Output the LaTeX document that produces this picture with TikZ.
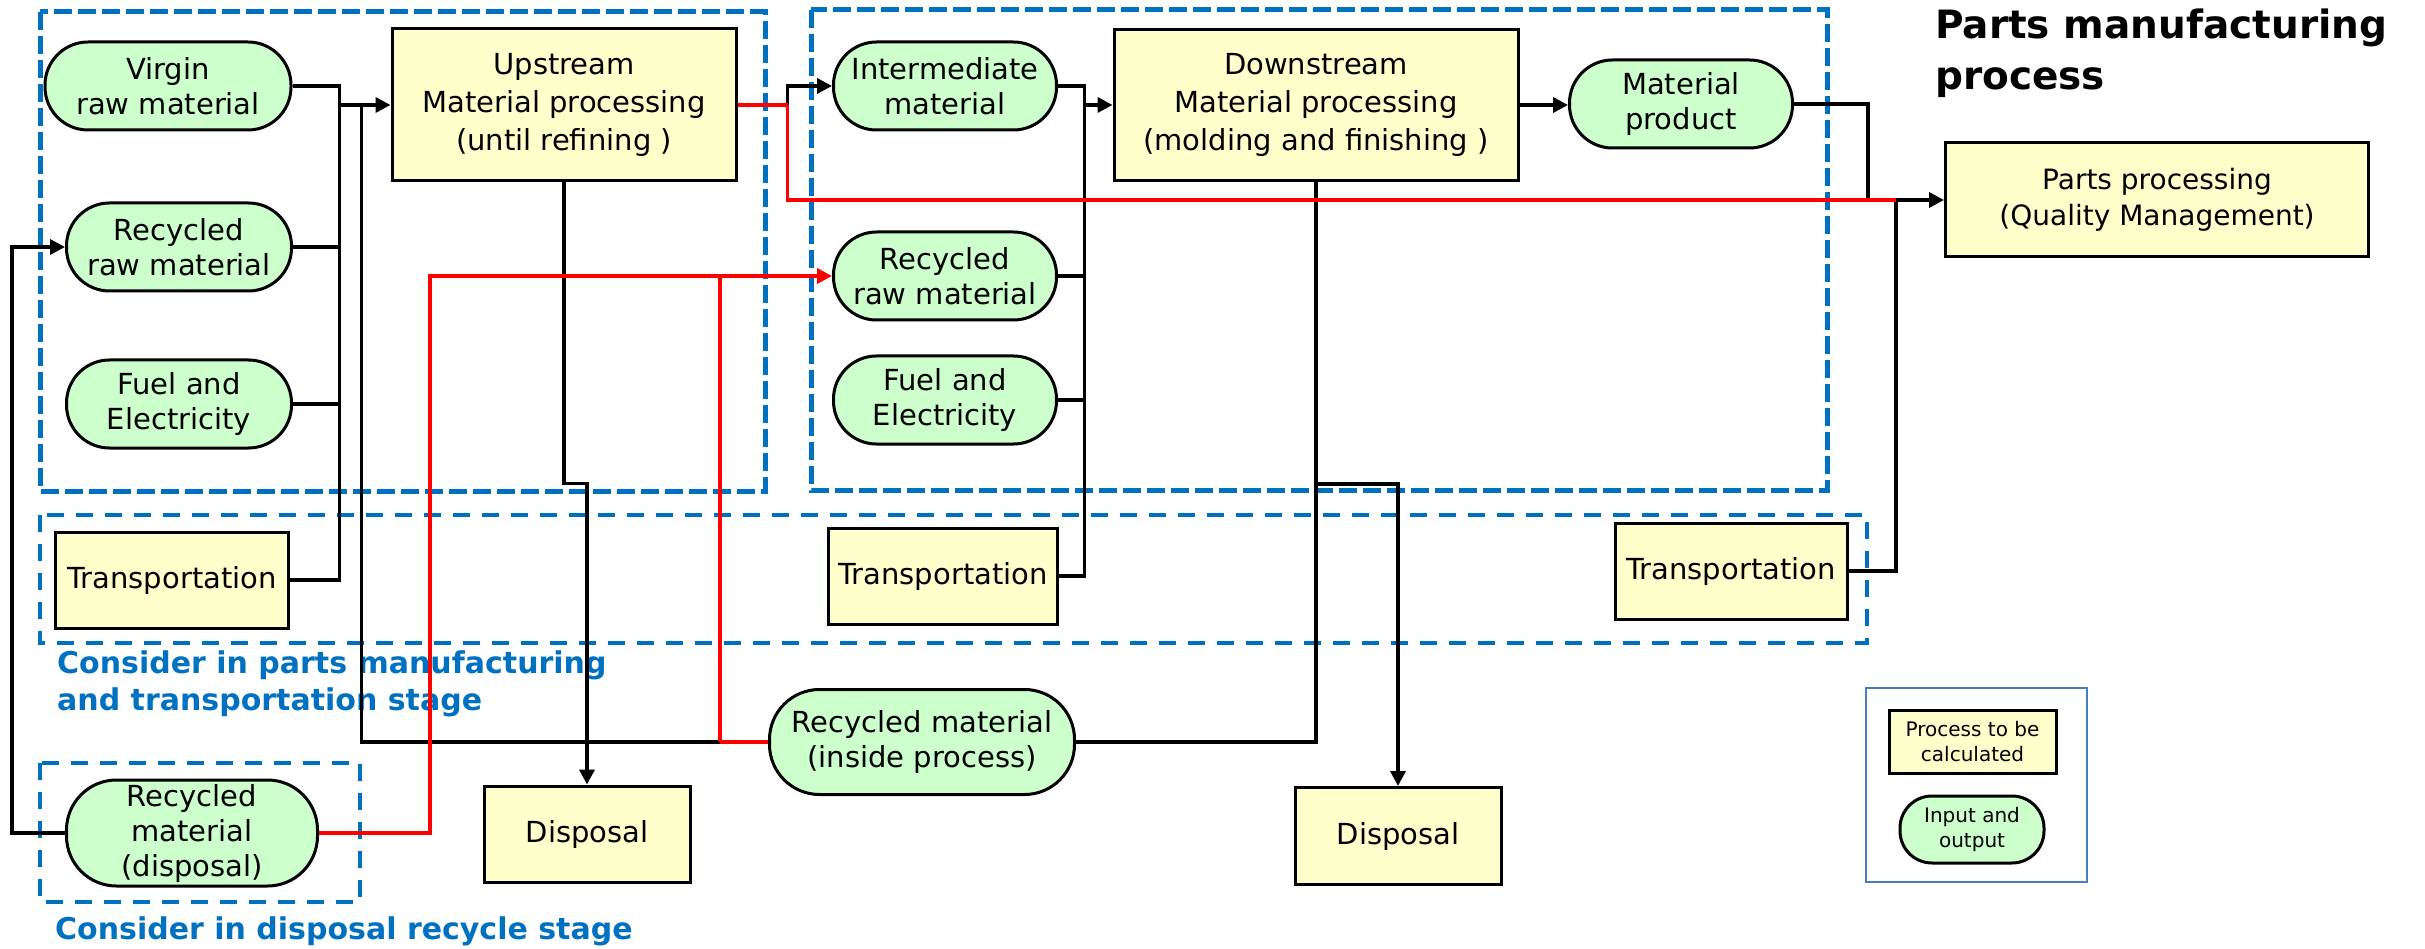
\documentclass[tikz,border=0pt]{standalone}
\usepackage{fontspec}
\setmainfont{DejaVu Sans}
\usepackage{tikz}
\usetikzlibrary{calc,positioning,arrows.meta}
\definecolor{procFill}{HTML}{FFFFCC}
\definecolor{ioFill}{HTML}{CCFFCC}
\definecolor{stageBlue}{HTML}{0070C0}
\definecolor{flowRed}{HTML}{FF0000}
\definecolor{legendEdge}{HTML}{4A7EBB}

\begin{document}
\begin{tikzpicture}[
    x=1pt, y=-1pt,
    proc/.style={rectangle, draw=black, line width=3pt, fill=procFill, align=center,
                 font=\fontsize{29}{36}\selectfont, inner sep=2pt},
    io/.style={rectangle, rounded corners=43pt, draw=black, line width=3pt, fill=ioFill,
               align=center, font=\fontsize{29}{35}\selectfont, inner sep=2pt},
    link/.style={line width=3.5pt, black},
    arrow/.style={link, -{Triangle[length=15pt, width=15pt]}},
    redlink/.style={line width=3.5pt, flowRed},
    redarrow/.style={redlink, -{Triangle[length=15pt, width=15pt]}},
    stage/.style={draw=stageBlue, dash pattern=on 18pt off 6pt, line width=5pt},
    substage/.style={draw=stageBlue, dash pattern=on 17pt off 12pt, line width=3.5pt},
    note/.style={font=\fontsize{30}{37}\selectfont\bfseries, text=stageBlue, align=left,
                 anchor=north west, inner sep=0pt},
]
    \useasboundingbox (0,0) rectangle (2425,949);

    % stage frames
    \draw[stage] (40,12) rectangle (765,491);
    \draw[stage] (811,10) rectangle (1827,490);
    \draw[substage] (40,515) rectangle (1867,643);
    \draw[substage] (40,763) rectangle (360,902);

    % upstream
    \node[io, minimum width=246pt, minimum height=88pt] (virgin) at (168,86) {Virgin\\raw material};
    \node[io, minimum width=225pt, minimum height=88pt] (recL) at (179,247) {Recycled\\raw material};
    \node[io, minimum width=225pt, minimum height=88pt] (fuelL) at (179,404) {Fuel and\\Electricity};
    \node[proc, minimum width=344pt, minimum height=152pt, font=\fontsize{29}{38}\selectfont] (up) at (564,105) {Upstream\\Material processing\\(until refining )};

    % downstream
    \node[io, minimum width=223pt, minimum height=88pt] (inter) at (945,86) {Intermediate\\material};
    \node[io, minimum width=223pt, minimum height=88pt] (recR) at (945,276) {Recycled\\raw material};
    \node[io, minimum width=223pt, minimum height=88pt] (fuelR) at (945,400) {Fuel and\\Electricity};
    \node[proc, minimum width=404pt, minimum height=151pt, font=\fontsize{29}{38}\selectfont] (down) at (1316,105) {Downstream\\Material processing\\(molding and finishing )};
    \node[io, minimum width=223pt, minimum height=88pt] (prod) at (1681,104) {Material\\product};
    \node[proc, minimum width=423pt, minimum height=114pt, font=\fontsize{28}{36}\selectfont] (parts) at (2157,200) {Parts processing\\(Quality Management)};

    % transportation
    \node[proc, minimum width=233pt, minimum height=96pt] (transL) at (172,580) {Transportation};
    \node[proc, minimum width=229pt, minimum height=96pt] (transM) at (943,576) {Transportation};
    \node[proc, minimum width=232pt, minimum height=96pt] (transR) at (1731,571) {Transportation};

    % recycling and disposal
    \node[io, minimum width=305pt, minimum height=105pt, rounded corners=50pt] (recin) at (922,742) {Recycled material\\(inside process)};
    \node[io, minimum width=251pt, minimum height=106pt, rounded corners=50pt] (recdis) at (192,833) {Recycled\\material\\(disposal)};
    \node[proc, minimum width=206pt, minimum height=96pt] (dispL) at (587,834) {Disposal};
    \node[proc, minimum width=206pt, minimum height=97pt] (dispR) at (1398,836) {Disposal};

    % labels
    \node[anchor=north west, inner sep=0pt, align=left, font=\fontsize{39}{51}\selectfont\bfseries] (title) at (1935,9) {Parts manufacturing\\process};
    \node[note] (noteTrans) at (57,651) {Consider in parts manufacturing\\and transportation stage};
    \node[note] (noteDis) at (55,917) {Consider in disposal recycle stage};

    % legend
    \node[draw=legendEdge, line width=1.8pt, minimum width=221pt, minimum height=194pt] (legend) at (1976.5,785) {};
    \node[proc, minimum width=167pt, minimum height=63pt, font=\fontsize{20}{25}\selectfont] (legProc) at (1972.5,741.5) {Process to be\\calculated};
    \node[io, rounded corners=32pt, minimum width=144pt, minimum height=67pt, font=\fontsize{20}{25}\selectfont] (legIo) at (1972,829.5) {Input and\\output};

    % inputs to upstream
    \coordinate (upbus) at ($(up.west)+(-51,0)$);
    \coordinate (upret) at ($(up.west)+(-29,0)$);
    \draw[link] (virgin.east) -| (upbus);
    \draw[link] (recL.east) -| (upbus);
    \draw[link] (fuelL.east) -| (upbus);
    \draw[link] (transL.east) -| (upbus);
    \draw[arrow] (upbus) -- (up.west);

    % upstream outputs
    \coordinate (upout) at ($(up.east)+(50,0)$);
    \coordinate (updrop) at ($(up.south)+(0,301)$);
    \draw[arrow] (upout) |- (inter.west);
    \draw[arrow] (up.south) -- (updrop) -| (dispL.north);

    % inputs to downstream
    \coordinate (downbus) at ($(down.west)+(-28,0)$);
    \draw[link] (inter.east) -| (downbus);
    \draw[link] (recR.east) -| (downbus);
    \draw[link] (fuelR.east) -| (downbus);
    \draw[link] (transM.east) -| (downbus);
    \draw[arrow] (downbus) -- (down.west);

    % downstream outputs
    \coordinate (downdrop) at ($(down.south)+(0,302)$);
    \draw[arrow] (down.east) -- (down.east -| prod.west);
    \draw[link] (down.south) |- (recin.east);
    \draw[arrow] (downdrop) -| (dispR.north);

    % into parts processing
    \coordinate (partsbus) at ($(parts.west)+(-48,0)$);
    \coordinate (prodbus) at ($(parts.west)+(-76,0)$);
    \draw[link] (prod.east) -| (prodbus);
    \draw[link] (transR.east) -| (partsbus);
    \draw[arrow] (partsbus) -- (parts.west);

    % recycled material loops
    \coordinate (recinj) at ($(recin.west)+(-48,0)$);
    \coordinate (recdisL) at ($(recdis.west)+(-53,0)$);
    \coordinate (recdisR) at ($(recR.west)+(-402,0)$);
    \draw[link] (recinj) -| (upret);
    \draw[arrow] (recdis.west) -- (recdisL) |- (recL.west);

    % red flows
    \draw[redlink] (up.east) -- (upout);
    \draw[redlink] (upout) |- (partsbus);
    \draw[redlink] (recin.west) -- (recinj);
    \draw[redlink] (recinj) -- (recinj |- recR.west);
    \draw[redarrow] (recdis.east) -| (recdisR) -- (recR.west);
\end{tikzpicture}
\end{document}
